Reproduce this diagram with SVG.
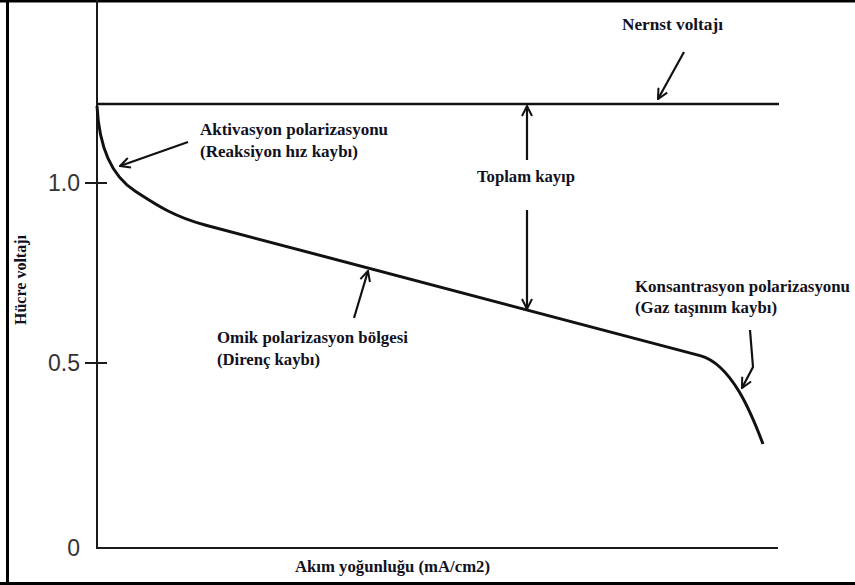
<svg xmlns="http://www.w3.org/2000/svg" width="855" height="585" viewBox="0 0 855 585">
<defs>
<style>
.lbl{font-family:'Liberation Serif','Times New Roman',serif;font-weight:bold;font-size:17px;fill:#111122}
.num{font-family:'Liberation Sans',Arial,sans-serif;font-size:23px;fill:#333}
.ax{stroke:#1a1a1a;stroke-width:2;fill:none}
.arr{stroke:#111;stroke-width:2.2;fill:none}
</style>
<marker id="ah" viewBox="0 0 12 12" refX="11" refY="6" markerWidth="12" markerHeight="12" markerUnits="userSpaceOnUse" orient="auto">
<path d="M1,1 L11,6 L1,11" fill="none" stroke="#111" stroke-width="2"/>
</marker>
</defs>
<rect width="855" height="585" fill="#ffffff"/>
<g id="frame" fill="#000">
<rect x="0" y="0" width="855" height="2.5"/>
<rect x="6" y="0" width="3" height="585"/>
<rect x="0" y="582" width="855" height="3"/>
</g>
<g id="axes">
<path class="ax" d="M97,0 V548 H778"/>
<path class="ax" d="M85,183 H107 M85,363 H107"/>
<text class="num" x="80" y="191" text-anchor="end">1.0</text>
<text class="num" x="80" y="371" text-anchor="end">0.5</text>
<text class="num" x="80" y="556" text-anchor="end">0</text>
<text class="lbl" transform="translate(26,280) rotate(-90)" text-anchor="middle" style="font-size:16px" textLength="90" lengthAdjust="spacingAndGlyphs">Hücre voltajı</text>
<text class="lbl" x="295" y="572" textLength="195" lengthAdjust="spacingAndGlyphs">Akım yoğunluğu (mA/cm2)</text>
</g>
<g id="nernst">
<path d="M97,104 H779" stroke="#111" stroke-width="2.5" fill="none"/>
<text class="lbl" x="622" y="30" textLength="101" lengthAdjust="spacingAndGlyphs">Nernst voltajı</text>
</g>
<g id="curve">
<path d="M97,106 C99,145 110,175 135,191 C155,203.8 172,216 205,225 L700,355.6 C732,364 752,415 763,444" stroke="#111" stroke-width="3" fill="none"/>
</g>
<g id="activation">
<text class="lbl" x="200" y="135" textLength="188" lengthAdjust="spacingAndGlyphs">Aktivasyon polarizasyonu</text>
<text class="lbl" x="200" y="157" textLength="158" lengthAdjust="spacingAndGlyphs">(Reaksiyon hız kaybı)</text>
</g>
<g id="total">
<text class="lbl" x="477" y="182" textLength="98" lengthAdjust="spacingAndGlyphs">Toplam kayıp</text>
</g>
<g id="ohmic">
<text class="lbl" x="217" y="343" textLength="191" lengthAdjust="spacingAndGlyphs">Omik polarizasyon bölgesi</text>
<text class="lbl" x="217" y="365" textLength="103" lengthAdjust="spacingAndGlyphs">(Direnç kaybı)</text>
</g>
<g id="concentration">
<text class="lbl" x="635" y="292" textLength="215" lengthAdjust="spacingAndGlyphs">Konsantrasyon polarizasyonu</text>
<text class="lbl" x="635" y="313" textLength="142" lengthAdjust="spacingAndGlyphs">(Gaz taşınım kaybı)</text>
</g>
<g id="connectors">
<path class="arr" d="M684,52 L658,99" marker-end="url(#ah)"/>
<path class="arr" d="M188,142 L120,166" marker-end="url(#ah)"/>
<path class="arr" d="M527,160 V106" marker-end="url(#ah)"/>
<path class="arr" d="M527,210 V309" marker-end="url(#ah)"/>
<path class="arr" d="M354,318 L368,271" marker-end="url(#ah)"/>
<path class="arr" d="M750,330 L753,367 L742,388" marker-end="url(#ah)"/>
</g>
</svg>
